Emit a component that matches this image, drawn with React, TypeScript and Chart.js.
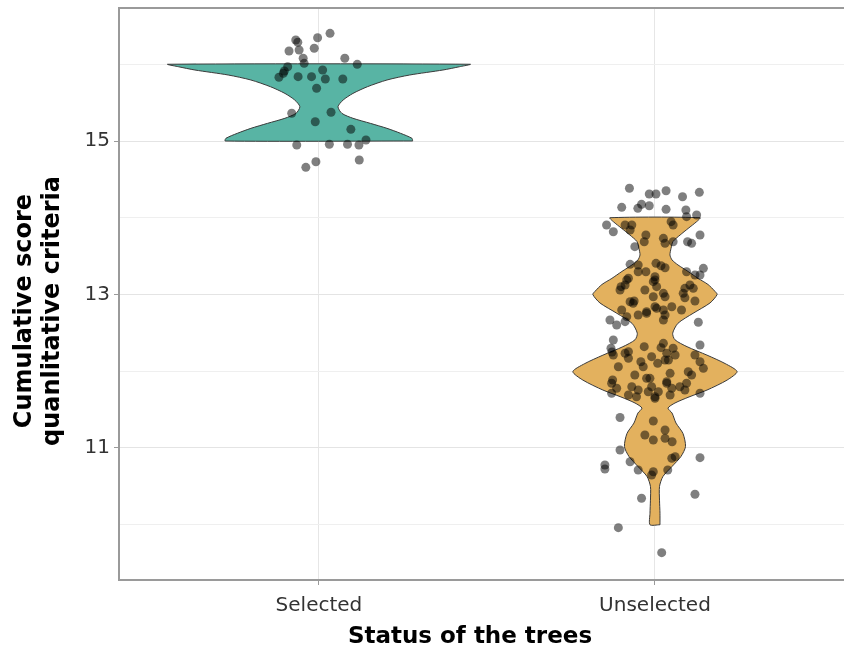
import React, { useEffect, useRef } from 'react';
import { Chart, registerables } from 'chart.js';

Chart.register(...registerables);

// ---------- data ----------
const categories = ['Selected', 'Unselected'];
const yLabelledTicks = [11, 13, 15];
const yGridValues = [10, 11, 12, 13, 14, 15, 16];

// violin outlines: score value and relative density (1 = widest)
const selectedViolinY = [15.0, 15.035, 15.1, 15.165, 15.23, 15.296, 15.36, 15.447, 15.534, 15.62, 15.707, 15.795, 15.86, 15.925, 15.968, 16.0];
const selectedViolinDensity = [0.62, 0.615, 0.54, 0.45, 0.34, 0.225, 0.152, 0.126, 0.16, 0.225, 0.32, 0.45, 0.6, 0.82, 0.93, 1.0];

const unselectedViolinY = [10.0, 10.15, 10.32, 10.5, 10.63, 10.76, 10.89, 11.02, 11.19, 11.325, 11.455, 11.52, 11.586, 11.665, 11.755, 11.885, 11.995, 12.1, 12.21, 12.32, 12.41, 12.495, 12.625, 12.755, 12.89, 13.0, 13.04, 13.13, 13.21, 13.3, 13.385, 13.45, 13.515, 13.6, 13.69, 13.775, 13.86, 13.95, 14.0];
const unselectedViolinDensity = [0.033, 0.033, 0.03, 0.03, 0.053, 0.113, 0.172, 0.202, 0.185, 0.139, 0.113, 0.086, 0.132, 0.225, 0.344, 0.477, 0.543, 0.464, 0.344, 0.212, 0.132, 0.117, 0.152, 0.252, 0.364, 0.411, 0.397, 0.351, 0.285, 0.219, 0.152, 0.113, 0.099, 0.106, 0.119, 0.166, 0.219, 0.276, 0.298];

// jittered observations: score (with vertical jitter) and horizontal jitter
const selectedPointsY = [16.403, 16.346, 16.316, 16.286, 16.173, 16.186, 16.208, 16.078, 16.012, 16.078, 15.999, 15.968, 15.882, 15.83, 15.838, 15.838, 15.925, 15.808, 15.808, 15.687, 15.361, 15.374, 15.251, 15.152, 15.013, 14.948, 14.957, 14.957, 14.948, 14.73, 14.657, 14.752, 15.912];
const selectedPointsJitter = [0.033, -0.004, -0.069, -0.063, -0.089, -0.059, -0.014, -0.047, -0.044, 0.077, 0.114, -0.093, -0.106, -0.119, -0.062, -0.022, 0.011, 0.019, 0.071, -0.007, -0.081, 0.036, -0.011, 0.095, 0.14, -0.066, 0.031, 0.085, 0.119, -0.009, -0.039, 0.12, -0.103];

const unselectedPointsY = [
  14.384, 14.309, 14.309, 14.352, 14.274, 14.331, 14.136, 14.123, 14.175, 14.157,
  14.11, 14.101, 14.014, 14.036, 13.905, 13.818, 13.905, 13.84, 13.949, 13.905,
  13.775, 13.688, 13.732, 13.667, 13.688, 13.688, 13.667, 13.775, 13.623, 13.393,
  13.297, 13.297, 13.406, 13.375, 13.349, 13.232, 13.297, 13.254, 13.341, 13.254,
  13.211, 13.124, 13.058, 13.167, 13.102, 13.058, 13.015, 13.08, 13.124, 13.015,
  12.915, 12.971, 12.971, 12.958, 12.915, 12.798, 12.733, 12.776, 12.82, 12.733,
  12.841, 12.798, 12.668, 12.668, 12.603, 12.646, 12.638, 12.407, 12.342, 12.299,
  12.212, 12.234, 12.169, 12.059, 12.32, 12.307, 12.299, 12.234, 12.212, 12.19,
  12.124, 12.059, 12.103, 12.146, 12.212, 12.124, 12.038, 11.951, 11.908, 11.973,
  11.994, 11.951, 11.843, 11.778, 11.713, 11.69, 11.756, 11.798, 11.733, 11.733,
  11.668, 11.843, 11.798, 11.778, 11.756, 11.713, 11.69, 11.397, 11.352, 11.234,
  11.169, 11.104, 11.126, 11.082, 10.974, 10.779, 10.726, 10.821, 10.713, 10.691,
  10.648, 10.713, 10.866, 10.887, 10.874, 10.345, 10.397, 9.962, 9.636,
  12.251, 11.886, 13.384, 13.102, 13.19, 13.19, 12.906, 12.885, 12.755, 12.841,
  12.798, 13.08, 12.711, 12.255, 12.364, 12.146, 11.798, 11.908, 11.864, 11.843,
  11.668, 11.648, 13.905
];
const unselectedPointsJitter = [
  -0.076, -0.017, 0.003, 0.033, 0.082, 0.132, -0.099, -0.051, -0.04, -0.017,
  0.033, 0.092, 0.094, 0.124, -0.144, -0.124, -0.069, -0.074, 0.048, 0.054,
  -0.027, -0.032, 0.025, 0.03, 0.054, 0.097, 0.109, 0.134, -0.06, -0.074,
  -0.05, -0.027, 0.003, 0.018, 0.03, 0.0, 0.094, 0.119, 0.144, 0.134,
  -0.079, -0.089, -0.104, -0.005, 0.005, -0.03, 0.025, 0.089, 0.104, 0.084,
  -0.062, -0.005, 0.03, 0.089, 0.119, -0.099, -0.05, -0.025, 0.005, 0.03,
  0.05, 0.079, 0.025, -0.134, -0.114, -0.089, 0.129, -0.124, 0.134, -0.131,
  -0.124, -0.089, -0.079, -0.109, -0.032, 0.018, 0.054, 0.035, 0.06, -0.01,
  -0.042, -0.035, 0.008, 0.03, 0.119, 0.134, 0.144, -0.06, -0.015, 0.045,
  0.099, 0.109, -0.129, -0.114, -0.129, -0.079, -0.05, -0.01, -0.02, 0.01,
  0.0, 0.035, 0.074, 0.05, 0.089, 0.134, 0.045, -0.104, -0.005, 0.03,
  -0.03, -0.005, 0.03, 0.051, -0.104, -0.149, -0.149, -0.074, -0.05, -0.005,
  -0.01, 0.038, 0.05, 0.06, 0.134, -0.04, 0.119, -0.109, 0.02,
  -0.128, -0.126, -0.05, -0.101, -0.084, 0.0, -0.074, -0.065, -0.025, 0.0,
  0.025, 0.114, -0.084, -0.079, 0.025, 0.04, -0.069, -0.025, 0.035, 0.094,
  -0.055, 0.0, -0.089
];

// ---------- styling ----------
const VIOLIN_HALF_WIDTH = 0.45;
const TEAL = '#58B4A4';
const GOLD = '#E3B15E';
const FONT = '"DejaVu Sans", Verdana, sans-serif';

function violinOutline(center: number, ys: number[], ds: number[]) {
  const right = ys.map((y, i) => ({ x: center + ds[i] * VIOLIN_HALF_WIDTH, y }));
  const left = ys.map((y, i) => ({ x: center - ds[i] * VIOLIN_HALF_WIDTH, y })).reverse();
  return [...right, ...left, right[0]];
}

function jittered(center: number, ys: number[], js: number[]) {
  return ys.map((y, i) => ({ x: center + js[i], y }));
}

const decorPlugin = {
  id: 'decor',
  afterDraw(chart: any) {
    const { ctx, chartArea } = chart;
    ctx.save();
    ctx.strokeStyle = '#9a9a9a';
    ctx.lineWidth = 2;
    ctx.beginPath();
    ctx.moveTo(chartArea.left, chartArea.top);
    ctx.lineTo(chartArea.right, chartArea.top);
    ctx.stroke();

    ctx.fillStyle = '#000';
    ctx.textAlign = 'center';
    ctx.textBaseline = 'middle';
    ctx.font = `bold 23px ${FONT}`;
    ctx.fillText('Status of the trees', 470, 637);

    ctx.font = `bold 24px ${FONT}`;
    ctx.translate(0, 311);
    ctx.rotate(-Math.PI / 2);
    ctx.fillText('Cumulative score', 0, 25);
    ctx.fillText('quanlitative criteria', 0, 53);
    ctx.restore();
  },
};

export default function App() {
  const canvasRef = useRef<HTMLCanvasElement | null>(null);

  useEffect(() => {
    if (!canvasRef.current) return;
    const chart = new Chart(canvasRef.current, {
      type: 'scatter',
      data: {
        datasets: [
          {
            type: 'scatter',
            label: 'Selected points',
            data: jittered(1, selectedPointsY, selectedPointsJitter),
            backgroundColor: 'rgba(0,0,0,0.5)',
            borderWidth: 0,
            pointRadius: 4.5,
            order: 0,
          },
          {
            type: 'scatter',
            label: 'Unselected points',
            data: jittered(2, unselectedPointsY, unselectedPointsJitter),
            backgroundColor: 'rgba(0,0,0,0.5)',
            borderWidth: 0,
            pointRadius: 4.5,
            order: 0,
          },
          {
            type: 'line',
            label: 'Selected violin',
            data: violinOutline(1, selectedViolinY, selectedViolinDensity),
            backgroundColor: TEAL,
            borderColor: '#3a3a3a',
            borderWidth: 1,
            pointRadius: 0,
            tension: 0.25,
            fill: 'shape',
            order: 1,
          },
          {
            type: 'line',
            label: 'Unselected violin',
            data: violinOutline(2, unselectedViolinY, unselectedViolinDensity),
            backgroundColor: GOLD,
            borderColor: '#3a3a3a',
            borderWidth: 1,
            pointRadius: 0,
            tension: 0.25,
            fill: 'shape',
            order: 1,
          },
        ] as any,
      },
      options: {
        animation: false,
        responsive: false,
        layout: { autoPadding: false, padding: { top: 8, right: 0, left: 0, bottom: 0 } },
        plugins: { legend: { display: false }, tooltip: { enabled: false } },
        scales: {
          x: {
            type: 'linear',
            min: 0.405,
            max: 2.5625,
            afterBuildTicks: (s: any) => {
              s.ticks = categories.map((_, i) => ({ value: i + 1 }));
            },
            afterFit: (s: any) => {
              s.height = 71;
              s.paddingLeft = 0;
              s.paddingRight = 0;
            },
            ticks: {
              callback: (_v: any, i: number) => categories[i],
              font: { family: FONT, size: 20 },
              color: '#333',
              padding: 9,
              autoSkip: false,
              maxRotation: 0,
            },
            grid: { color: '#e6e6e6', lineWidth: 1, tickLength: 5, tickColor: '#9a9a9a' },
            border: { color: '#9a9a9a', width: 2 },
          },
          y: {
            type: 'linear',
            min: 9.28,
            max: 16.733,
            afterBuildTicks: (s: any) => {
              s.ticks = yGridValues.map((v) => ({ value: v }));
            },
            afterFit: (s: any) => {
              s.width = 119;
              s.paddingTop = 0;
              s.paddingBottom = 0;
            },
            ticks: {
              callback: (v: any) => (yLabelledTicks.includes(Number(v)) ? String(v) : ''),
              font: { family: FONT, size: 20 },
              color: '#333',
              padding: 4,
              autoSkip: false,
            },
            grid: {
              color: (c: any) => (c.tick && yLabelledTicks.includes(c.tick.value) ? '#e4e4e4' : '#efefef'),
              lineWidth: 1,
              tickLength: 5,
              tickColor: (c: any) => (c.tick && yLabelledTicks.includes(c.tick.value) ? '#9a9a9a' : 'rgba(0,0,0,0)'),
            },
            border: { color: '#9a9a9a', width: 2 },
          },
        },
      } as any,
      plugins: [decorPlugin],
    });
    return () => chart.destroy();
  }, []);

  return (
    <div style={{ position: 'absolute', left: 0, top: 0, width: 844, height: 651, background: '#fff' }}>
      <canvas ref={canvasRef} width={844} height={651} style={{ display: 'block' }} />
    </div>
  );
}
